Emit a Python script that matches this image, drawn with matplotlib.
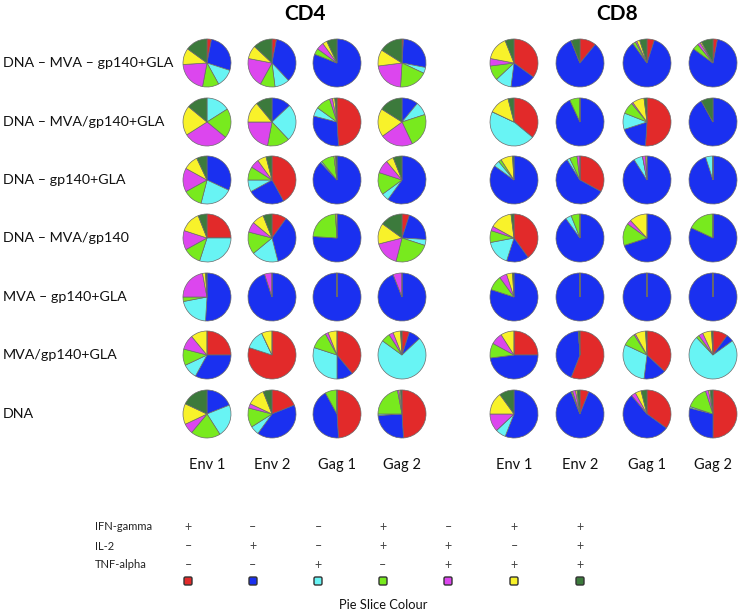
import matplotlib
matplotlib.use("Agg")
import matplotlib.pyplot as plt
from matplotlib.patches import FancyBboxPatch

W, H = 743, 613

groups = ["DNA – MVA – gp140+GLA", "DNA – MVA/gp140+GLA", "DNA – gp140+GLA",
          "DNA – MVA/gp140", "MVA – gp140+GLA", "MVA/gp140+GLA", "DNA"]
antigens = ["Env 1", "Env 2", "Gag 1", "Gag 2"]
slice_names = ["IFN+IL2-TNF-", "IFN-IL2+TNF-", "IFN-IL2-TNF+", "IFN+IL2+TNF-",
               "IFN-IL2+TNF+", "IFN+IL2-TNF+", "IFN+IL2+TNF+"]
slice_colors = ["#e22a2a", "#1a30f0", "#68f4f4", "#78ea1e", "#dc46ee", "#f8f22a", "#3c7a3c"]

ifn_gamma = ["+", "–", "–", "+", "–", "+", "+"]
il_2 = ["–", "+", "–", "+", "+", "–", "+"]
tnf_alpha = ["–", "–", "+", "–", "+", "+", "+"]

# fractions (%) per group row, slices in order: red, blue, cyan, green, magenta, yellow, dark green
cd4_env1 = [[3, 27, 12, 11, 21, 11, 15],
            [0, 0, 16, 20, 30, 20, 14],
            [0, 32, 22, 13, 16, 10, 7],
            [25, 0, 30, 12, 13, 14, 6],
            [0, 51, 21, 3, 22, 2, 1],
            [25, 33, 10, 11, 10, 11, 0],
            [0, 19, 22, 20, 7, 14, 18]]
cd4_env2 = [[3, 35, 10, 10, 20, 9, 13],
            [0, 13, 25, 15, 22, 14, 11],
            [42, 25, 8, 9, 6, 6, 4],
            [10, 36, 18, 15, 7, 8, 6],
            [0, 95, 0, 0, 5, 0, 0],
            [80, 0, 13, 0, 0, 7, 0],
            [19, 41, 6, 13, 3, 12, 6]]
cd4_gag1 = [[0, 81, 0, 4, 5, 3, 7],
            [49, 30, 6, 10, 2, 1.5, 1.5],
            [0, 88, 1, 9, 0, 1, 1],
            [0, 76, 0, 23, 0, 1, 0],
            [0, 100, 0, 0, 0, 0, 0.1],
            [39, 11, 30, 12, 2, 6, 0],
            [49, 43, 0, 8, 0, 0, 0]]
cd4_gag2 = [[1, 27, 4, 19, 22, 11, 16],
            [0, 11, 9, 23, 22, 19, 16],
            [0, 60, 5, 15, 9, 5, 6],
            [5, 21, 4, 24, 17, 14, 15],
            [0, 94, 0, 0, 6, 0, 0],
            [5, 8, 72, 6, 3, 5, 1],
            [49, 25, 1, 22, 1, 1, 1]]
cd8_env1 = [[35, 17, 11, 10, 5, 16, 6],
            [36, 0, 46, 0, 0, 14, 4],
            [0, 85, 4, 2, 0, 8, 1],
            [40, 15, 17, 8, 3, 15, 2],
            [0, 80, 0, 10, 5, 4, 1],
            [25, 48, 0, 10, 8, 9, 0],
            [0, 56, 7, 0, 12, 15, 10]]
cd8_env2 = [[11, 83, 0, 0, 0, 0, 6],
            [0, 93, 0, 7, 0, 0, 0],
            [33, 58, 2, 5, 2, 0, 0],
            [0, 90, 4, 6, 0, 0, 0],
            [0, 100, 0, 0, 0, 0, 0.1],
            [56, 43, 0, 0, 0, 0, 1],
            [6, 88, 0, 1, 2, 1, 2]]
cd8_gag1 = [[5, 85, 0, 2, 1, 2, 5],
            [51, 19, 11, 8, 1, 8, 2],
            [0, 91, 6, 0, 2, 1, 0],
            [0, 70, 0, 15, 3, 12, 0],
            [0, 100, 0, 0, 0, 0, 0.1],
            [37, 15, 30, 9, 1, 7, 1],
            [35, 54, 0, 0, 3, 4, 4]]
cd8_gag2 = [[3, 82, 0, 4, 2, 1, 8],
            [0, 92, 0, 0, 0, 0, 8],
            [0, 95, 5, 0, 0, 0, 0],
            [0, 82, 0, 18, 0, 0, 0],
            [0, 100, 0, 0, 0, 0, 0.1],
            [10, 5, 73, 2, 3, 6, 1],
            [50, 29, 1, 15, 2, 1, 2]]

cd4_panels = [cd4_env1, cd4_env2, cd4_gag1, cd4_gag2]
cd8_panels = [cd8_env1, cd8_env2, cd8_gag1, cd8_gag2]

plt.rcParams['font.family'] = ['Lato', 'DejaVu Sans']

fig = plt.figure(figsize=(W / 100, H / 100), dpi=100)
ax = fig.add_axes([0, 0, 1, 1])

def Y(y):
    return H - y

col_x_cd4 = [207, 272, 337, 402]
col_x_cd8 = [514, 580, 647, 713]
row_y = [63, 122, 180, 238, 297, 355, 414]
radius = 24

for panels, cols in ((cd4_panels, col_x_cd4), (cd8_panels, col_x_cd8)):
    for ci, panel in enumerate(panels):
        for ri, vals in enumerate(panel):
            ax.pie(vals, colors=slice_colors, startangle=90, counterclock=False,
                   center=(cols[ci], Y(row_y[ri])), radius=radius,
                   wedgeprops=dict(edgecolor="#6a6a6a", linewidth=0.5))

for ri, g in enumerate(groups):
    ax.text(3, Y(row_y[ri]), g, fontsize=10.3, ha="left", va="center", color="#111111")

for ci, a in enumerate(antigens):
    ax.text(col_x_cd4[ci], Y(465), a, fontsize=10.5, ha="center", va="center", color="#111111")
    ax.text(col_x_cd8[ci], Y(465), a, fontsize=10.5, ha="center", va="center", color="#111111")

ax.text(305, Y(14), "CD4", fontsize=15, fontweight="bold", ha="center", va="center")
ax.text(617, Y(14), "CD8", fontsize=15, fontweight="bold", ha="center", va="center")

leg_x = [188, 253, 318, 383, 448, 514, 580]
for label, signs, y in (("IFN-gamma", ifn_gamma, 527), ("IL-2", il_2, 546),
                        ("TNF-alpha", tnf_alpha, 565)):
    ax.text(95, Y(y), label, fontsize=8, ha="left", va="center", color="#222222")
    for x, s in zip(leg_x, signs):
        ax.text(x, Y(y), s, fontsize=9, ha="center", va="center", color="#444444")

for x, c in zip(leg_x, slice_colors):
    box = FancyBboxPatch((x - 4, Y(581) - 4), 8, 8,
                         boxstyle="round,pad=0,rounding_size=1.5",
                         facecolor=c, edgecolor="#333333", linewidth=1.0)
    ax.add_patch(box)

ax.text(383, Y(605), "Pie Slice Colour", fontsize=9.3, ha="center", va="center", color="#111111")

ax.set_xlim(0, W)
ax.set_ylim(0, H)
ax.set_aspect("equal")
ax.axis("off")

fig.savefig("out.png", dpi=100)
